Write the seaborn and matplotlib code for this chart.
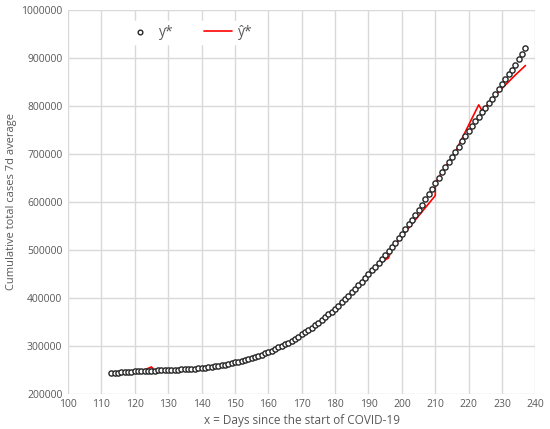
import numpy as np
import pandas as pd
import matplotlib
matplotlib.use("Agg")
import matplotlib.pyplot as plt
import seaborn as sns

# observed cumulative cases (7-day average), days 113..237
days = list(range(113, 238))
y_obs = [
    243000, 243500, 244000, 244500, 245000, 245500, 246000, 246500, 246800, 247100,
    247400, 247700, 248000, 248300, 248600, 248900, 249200, 249500, 249800, 250100,
    250400, 250700, 251000, 251500, 252000, 252500, 253000, 253600, 254300, 255100,
    256000, 257000, 258100, 259300, 260600, 262000, 263500, 265100, 266700, 268500,
    270400, 272400, 274500, 276700, 279000, 281500, 284200, 287000, 290000, 293100,
    296300, 299600, 303000, 306600, 310400, 314500, 318900, 323500, 328000, 332700,
    337600, 342700, 348000, 353500, 359200, 365100, 371200, 377400, 383800, 390400,
    397100, 404000, 411000, 418300, 425800, 433500, 441400, 449500, 457000, 464500,
    472200, 480200, 488500, 497000, 505500, 514300, 523600, 533300, 543000, 552800,
    562800, 573000, 583400, 594000, 604800, 615800, 627000, 638500, 650500, 661600,
    672000, 682900, 693100, 704100, 715000, 725800, 736400, 747500, 757500, 767800,
    777200, 787000, 796000, 805500, 814700, 824700, 834900, 845200, 855500, 865700,
    875500, 886000, 896600, 908200, 920500,
]

# fitted values (piecewise), days may repeat at segment breaks
fit_days = (list(range(113, 127)) + list(range(127, 191)) + list(range(191, 211))
            + [210] + list(range(211, 238)))
y_fit = (
    [243000, 243500, 244000, 244500, 245000, 245500, 246000, 246500, 246800, 247100,
     250000, 252800, 255800, 248300]
    + y_obs[14:78]
    + [456500, 462500, 468500, 474000, 479000, 483000, 503000, 511000, 519500, 528000,
       536500, 545000, 553500, 562000, 570500, 579000, 587500, 596000, 604500, 613000]
    + [639000]
    + [651000, 661600, 672000, 683000, 693500, 704000, 718000, 732000, 746000, 760000,
       774000, 788000, 802000, 790000, 797500, 805500, 813500, 821500, 829000, 836500,
       843500, 850500, 857500, 864500, 871000, 877500, 884000]
)

obs = pd.DataFrame({"day": days, "cases": y_obs})
fit = pd.DataFrame({"day": fit_days, "cases": y_fit})

sns.set_theme(style="white")
plt.rcParams["font.family"] = ["Open Sans", "DejaVu Sans"]
text_col = "#595959"

fig, ax = plt.subplots(figsize=(5.5, 4.29), dpi=100)
fig.subplots_adjust(left=0.1235, right=0.9736, bottom=0.0823, top=0.977)

sns.scatterplot(data=obs, x="day", y="cases", ax=ax, s=14, marker="o",
                facecolor="white", edgecolor="#262626", linewidth=1.0,
                label="y*", zorder=3)
sns.lineplot(data=fit, x="day", y="cases", ax=ax, color="#ff0000", linewidth=1.2,
             sort=False, estimator=None, label="ŷ*", zorder=2)

ax.set_xlim(100, 240)
ax.set_ylim(200000, 1000000)
ax.set_xticks(np.arange(100, 241, 10))
ax.set_yticks(np.arange(200000, 1000001, 100000))
ax.ticklabel_format(axis="y", style="plain", useOffset=False)
ax.grid(True, color="#d9d9d9", linewidth=1.0)
ax.set_axisbelow(True)
for s in ax.spines.values():
    s.set_visible(False)
ax.tick_params(axis="both", length=0, labelsize=7.5, labelcolor=text_col, pad=4)

ax.set_xlabel("x = Days since the start of COVID-19", fontsize=8.5, color=text_col, labelpad=3)
ax.set_ylabel("Cumulative total cases 7d average", fontsize=8, color=text_col, labelpad=3)

leg = ax.legend(loc="upper left", bbox_to_anchor=(0.1, 0.99), ncol=2, frameon=True,
                fontsize=10, handlelength=2.0, columnspacing=2.2, borderpad=0.3,
                handletextpad=0.4, markerscale=0.9)
leg.get_frame().set_facecolor("white")
leg.get_frame().set_edgecolor("white")
leg.get_frame().set_alpha(1.0)
for t in leg.get_texts():
    t.set_color(text_col)

fig.savefig("out.png", dpi=100)
